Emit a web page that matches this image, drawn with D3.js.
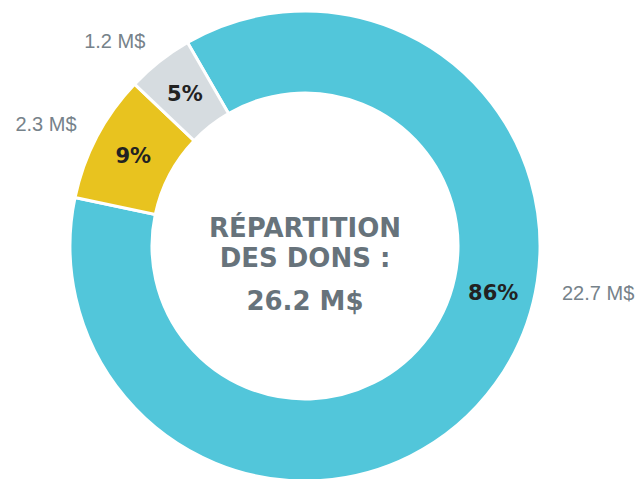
<!DOCTYPE html>
<html>
<head>
<meta charset="utf-8">
<script src="https://cdn.jsdelivr.net/npm/d3@7"></script>
<style>
  html, body { margin: 0; padding: 0; background: #fff; }
  svg { display: block; }
</style>
</head>
<body>
<svg id="chart" width="639" height="479"></svg>
<script>
// ── Data ───────────────────────────────────────────────
const categories = ['Principal', 'Secondaire', 'Autre'];
const amounts = [22.7, 2.3, 1.2];          // M$
const percents = ['86%', '9%', '5%'];
const amountLabels = ['22.7 M$', '2.3 M$', '1.2 M$'];
const colors = ['#52c6da', '#e8c31f', '#d6dce0'];
const titleLines = ['RÉPARTITION', 'DES DONS :', '26.2 M$'];

// ── Setup ──────────────────────────────────────────────
const svg = d3.select('#chart');
const cx = 305, cy = 246;
const outerR = 235, innerR = 153;
const midR = (outerR + innerR) / 2;
const valueR = 258;
const deg = Math.PI / 180;
const bigLabelAngle = 104 * deg;   // label spot for the large slice

const g = svg.append('g').attr('transform', `translate(${cx},${cy})`);

const pie = d3.pie()
  .sort(null)
  .value(d => d)
  .startAngle(-30 * deg)
  .endAngle(330 * deg);

const arcs = pie(amounts);
const arc = d3.arc().innerRadius(innerR).outerRadius(outerR);

g.selectAll('path.slice')
  .data(arcs)
  .join('path')
  .attr('class', 'slice')
  .attr('d', arc)
  .attr('fill', (d, i) => colors[i])
  .attr('stroke', '#fff')
  .attr('stroke-width', 3)
  .attr('stroke-linejoin', 'miter');

const labelAngle = d => {
  const span = d.endAngle - d.startAngle;
  return span > Math.PI ? bigLabelAngle : (d.startAngle + d.endAngle) / 2;
};
const pt = (a, r) => [Math.sin(a) * r, -Math.cos(a) * r];

// Percent labels inside the ring
g.selectAll('text.pct')
  .data(arcs)
  .join('text')
  .attr('class', 'pct')
  .attr('x', d => pt(labelAngle(d), midR)[0])
  .attr('y', d => pt(labelAngle(d), midR)[1])
  .attr('text-anchor', 'middle')
  .attr('dominant-baseline', 'central')
  .attr('font-family', "'DejaVu Sans', sans-serif")
  .attr('font-weight', 'bold')
  .attr('font-size', 21)
  .attr('fill', '#222')
  .text((d, i) => percents[i]);

// Amount labels outside the ring
g.selectAll('text.amt')
  .data(arcs)
  .join('text')
  .attr('class', 'amt')
  .each(function (d, i) {
    const a = labelAngle(d);
    const el = d3.select(this);
    if (Math.sin(a) > 0 && d.endAngle - d.startAngle > Math.PI) {
      // big slice: keep level with its percent label
      el.attr('x', outerR + 22).attr('y', pt(a, midR)[1]).attr('text-anchor', 'start');
    } else {
      const p = pt(a, valueR);
      el.attr('x', p[0]).attr('y', p[1] - 2).attr('text-anchor', Math.sin(a) < 0 ? 'end' : 'start');
    }
  })
  .attr('dominant-baseline', 'central')
  .attr('font-family', "'Liberation Sans', Arial, sans-serif")
  .attr('font-size', 20)
  .attr('fill', '#76828a')
  .text((d, i) => amountLabels[i]);

// Center title
const title = g.append('text')
  .attr('text-anchor', 'middle')
  .attr('font-family', "'DejaVu Sans', sans-serif")
  .attr('font-weight', 'bold')
  .attr('font-size', 26)
  .attr('fill', '#67737b');

const titleY = [-9, 21, 64];
titleLines.forEach((line, i) => {
  title.append('tspan')
    .attr('x', 0)
    .attr('y', titleY[i])
    .text(line);
});
</script>
</body>
</html>
